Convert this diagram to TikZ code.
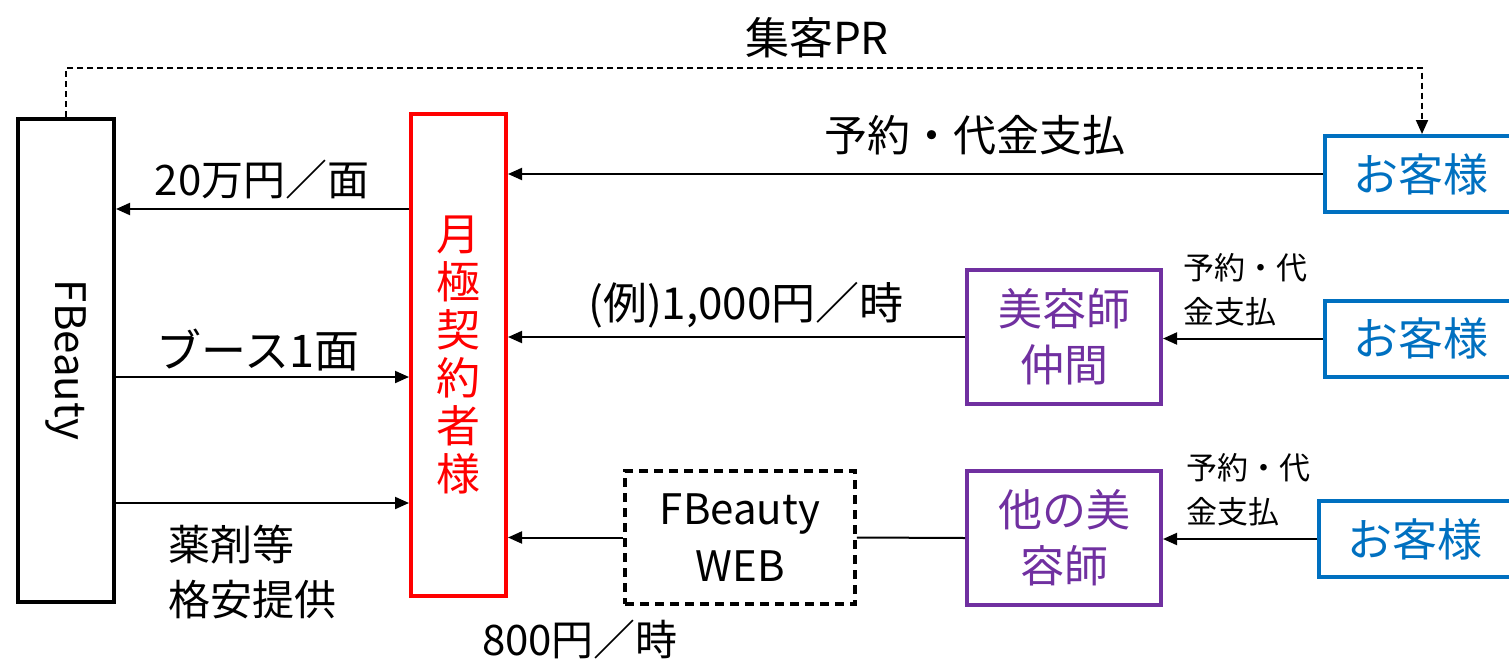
\documentclass[tikz,border=0pt]{standalone}
\usepackage{fontspec}
\setmainfont{Noto Sans CJK JP}
\usetikzlibrary{arrows.meta, positioning}
\definecolor{custblue}{HTML}{0070C0}
\definecolor{mateviolet}{HTML}{7030A0}
\tikzstyle{fbbox} = [rectangle, draw=black, line width=4pt, minimum width=96pt, minimum height=483pt, inner sep=0pt, font=\fontsize{42}{48}\selectfont]
\tikzstyle{memberbox} = [rectangle, draw=red, line width=4pt, minimum width=95pt, minimum height=482pt, inner sep=0pt, text=red, align=center, font=\fontsize{44}{48}\selectfont]
\tikzstyle{custbox} = [rectangle, draw=custblue, line width=4pt, minimum width=200pt, minimum height=76pt, text=custblue, font=\fontsize{45}{50}\selectfont]
\tikzstyle{matebox} = [rectangle, draw=mateviolet, line width=4pt, minimum width=194pt, minimum height=134pt, text=mateviolet, align=center, font=\fontsize{44}{56}\selectfont]
\tikzstyle{webbox} = [rectangle, draw=black, line width=3.5pt, dash pattern=on 9pt off 6pt, minimum width=230pt, minimum height=133pt, align=center, font=\fontsize{42}{57}\selectfont]
\tikzstyle{lbl} = [font=\fontsize{42}{55}\selectfont, inner sep=0pt]
\tikzstyle{smalllbl} = [font=\fontsize{31}{44}\selectfont, inner sep=0pt, align=left, anchor=west]
\tikzstyle{arrow} = [line width=2pt, -{Triangle[length=14pt, width=12pt]}]
\tikzstyle{dasharrow} = [line width=2pt, dash pattern=on 6pt off 4pt, -{Triangle[length=14pt, width=12pt]}]

\begin{document}
\begin{tikzpicture}[x=1pt, y=-1pt]
\clip (0,0) rectangle (1509,659);

% Nodes
\node[fbbox] (fb) at (66,360) {\rotatebox{-90}{FBeauty}};
\node[memberbox] (member) at (458.5,355) {月\\極\\契\\約\\者\\様};
\node[custbox] (cust1) at (1425,174) {\hspace*{-8pt}お客様};
\node[custbox] (cust2) at (1425,338.5) {\hspace*{-8pt}お客様};
\node[custbox] (cust3) at (1419,539) {\hspace*{-8pt}お客様};
\node[matebox] (mates) at (1064,337) {美容師\\仲間};
\node[matebox] (others) at (1064,538) {他の美\\容師};
\node[webbox] (web) at (740,537.5) {FBeauty\\WEB};

% Labels
\node[lbl, font=\fontsize{44}{55}\selectfont] (prlbl) at (817,38) {集客PR};
\node[lbl, font=\fontsize{43}{55}\selectfont] (paylbl) at (975,135) {予約・代金支払};
\node[lbl] (feelbl) at (262,180) {20万円／面};
\node[lbl, font=\fontsize{45}{55}\selectfont] (boothlbl) at (258,350) {ブース1面};
\node[lbl, align=left, anchor=west] (druglbl) at (168,572) {薬剤等\\格安提供};
\node[lbl, font=\fontsize{44}{55}\selectfont] (hourlbl) at (746,305) {(例)1,000円／時};
\node[smalllbl] (paylbla) at (1183,290) {予約・代\\金支払};
\node[smalllbl] (paylblb) at (1186,490) {予約・代\\金支払};
\node[lbl] (weblbl) at (580,640) {800円／時};

% Arrows
\draw[dasharrow] (fb.north) -- ++(0,-49) -| ([xshift=-3pt]cust1.north);
\draw[arrow] (cust1.west) -- (cust1.west -| member.east);
\draw[arrow] ([yshift=151pt]fb.east -| member.west) -- ([yshift=151pt]fb.east);
\draw[arrow] ([yshift=-17pt]fb.east) -- ([yshift=-17pt]fb.east -| member.west);
\draw[arrow] ([yshift=-143pt]fb.east) -- ([yshift=-143pt]fb.east -| member.west);
\draw[arrow] (mates.west) -- (mates.west -| member.east);
\draw[arrow] (cust2.west) -- (cust2.west -| mates.east);
\draw[arrow] (cust3.west) -- (cust3.west -| others.east);
\draw[line width=2pt] (others.west) -- (web.east);
\draw[arrow] (web.west) -- (web.west -| member.east);

\end{tikzpicture}
\end{document}
